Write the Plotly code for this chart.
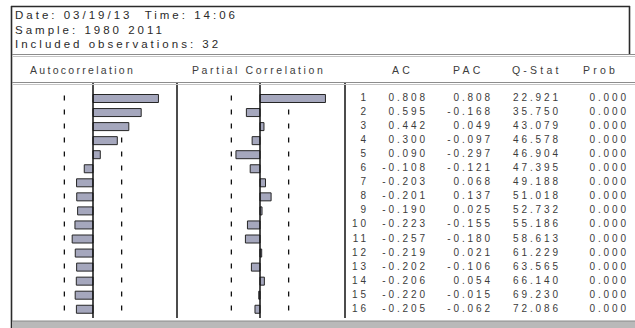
import math
import plotly.graph_objects as go

# Correlogram output: sample info and per-lag statistics
run_date = "03/19/13"
run_time = "14:06"
sample = "1980 2011"
n_obs = 32

lags = list(range(1, 17))
ac = [0.808, 0.595, 0.442, 0.300, 0.090, -0.108, -0.203, -0.201,
      -0.190, -0.223, -0.257, -0.219, -0.202, -0.206, -0.220, -0.205]
pac = [0.808, -0.168, 0.049, -0.097, -0.297, -0.121, 0.068, 0.137,
       0.025, -0.155, -0.180, 0.021, -0.106, 0.054, -0.015, -0.062]
q_stat = [22.921, 35.750, 43.079, 46.578, 46.904, 47.395, 49.188, 51.018,
          52.732, 55.186, 58.613, 61.229, 63.565, 66.140, 69.230, 72.086]
prob = [0.000] * 16

col_titles = ["AC", "PAC", "Q-Stat", "Prob"]

# approximate 95% band for the bar panels
band = 2 / math.sqrt(n_obs)

W, H = 635, 328
FONT = "Arial, Liberation Sans, sans-serif"
BAR_FILL = "#a5a7bd"
BAR_EDGE = "#262626"
TXT = "#3c3c3c"


def px_x(p):
    return p / W


def px_y(p):
    return 1 - p / H


def spaced(s, ls):
    return f'<span style="letter-spacing:{ls}px">{s}</span>'


fig = go.Figure()

# bar panels
fig.add_trace(go.Bar(x=ac, y=lags, orientation="h", xaxis="x", yaxis="y",
                     width=0.57, marker=dict(color=BAR_FILL, line=dict(color=BAR_EDGE, width=1)),
                     hoverinfo="skip"))
fig.add_trace(go.Bar(x=pac, y=lags, orientation="h", xaxis="x2", yaxis="y",
                     width=0.57, marker=dict(color=BAR_FILL, line=dict(color=BAR_EDGE, width=1)),
                     hoverinfo="skip"))

# numeric table columns (right-aligned at the column anchor)
ls_num = 2.9
columns = [
    (369, [str(v) for v in lags]),
    (428, [f"{v:.3f}" for v in ac]),
    (493, [f"{v:.3f}" for v in pac]),
    (561, [f"{v:.3f}" for v in q_stat]),
    (629, [f"{v:.3f}" for v in prob]),
]
for anchor, labels in columns:
    fig.add_trace(go.Scatter(
        x=[anchor] * len(lags), y=lags, xaxis="x3", yaxis="y",
        mode="text", text=[spaced(t, ls_num) for t in labels],
        textposition="middle left",
        textfont=dict(family=FONT, size=10, color=TXT),
        hoverinfo="skip"))

# row geometry: lag 1 centred at 98.5px, 14.05px per lag
row0, step = 98.5, 14.05
y_top = 1 - row0 / step
y_bot = 1 + (H - row0) / step

axis_off = dict(showgrid=False, zeroline=False, showticklabels=False,
                ticks="", showline=False, fixedrange=True)

fig.update_layout(
    width=W, height=H,
    margin=dict(l=0, r=0, t=0, b=0),
    paper_bgcolor="white", plot_bgcolor="rgba(0,0,0,0)",
    showlegend=False, barmode="overlay",
    xaxis=dict(domain=[px_x(12), px_x(174)], range=[-1, 1], **axis_off),
    xaxis2=dict(domain=[px_x(179), px_x(341)], range=[-1, 1], anchor="y", **axis_off),
    xaxis3=dict(domain=[0, 1], range=[0, W], anchor="y", **axis_off),
    yaxis=dict(domain=[0, 1], range=[y_bot, y_top], **axis_off),
)

shapes = []
line_k = dict(color="#111111", width=1.5)
y_a, y_b = px_y(83), px_y(318)

# zero lines and panel dividers
for xr, xv in [("x", 0), ("x2", 0)]:
    shapes.append(dict(type="line", xref=xr, yref="paper", x0=xv, x1=xv,
                       y0=y_a, y1=y_b, line=line_k))
for xp in (177, 345):
    shapes.append(dict(type="line", xref="paper", yref="paper",
                       x0=px_x(xp), x1=px_x(xp), y0=y_a, y1=y_b, line=line_k))

# dashed significance bands, drawn beneath the bars
for xr in ("x", "x2"):
    for sgn in (-1, 1):
        shapes.append(dict(type="line", xref=xr, yref="y", layer="below",
                           x0=sgn * band, x1=sgn * band, y0=0.78, y1=16.5,
                           line=dict(color="#111111", width=1.3, dash="5px,9px")))

# frame: header box, separators, bottom strip
frame = "#2b2b2b"
shapes += [
    dict(type="line", xref="paper", yref="paper", x0=px_x(11), x1=px_x(630),
         y0=px_y(6.5), y1=px_y(6.5), line=dict(color=frame, width=1.6)),
    dict(type="line", xref="paper", yref="paper", x0=px_x(11.5), x1=px_x(11.5),
         y0=px_y(6), y1=0, line=dict(color=frame, width=1.6)),
    dict(type="line", xref="paper", yref="paper", x0=px_x(629.5), x1=px_x(629.5),
         y0=px_y(6), y1=px_y(55), line=dict(color=frame, width=1.6)),
]
for yy in (54.5, 82.5):
    shapes.append(dict(type="line", xref="paper", yref="paper", x0=px_x(12), x1=1,
                       y0=px_y(yy), y1=px_y(yy), line=dict(color="#8c8c8c", width=1.2)))
    shapes.append(dict(type="line", xref="paper", yref="paper", x0=px_x(12), x1=1,
                       y0=px_y(yy + 2), y1=px_y(yy + 2), line=dict(color="#c4c4c4", width=1.2)))
shapes.append(dict(type="rect", xref="paper", yref="paper", x0=px_x(12), x1=1,
                   y0=0, y1=px_y(321), line=dict(width=0), fillcolor="#b9b9b9"))
shapes.append(dict(type="line", xref="paper", yref="paper", x0=px_x(12), x1=1,
                   y0=px_y(321), y1=px_y(321), line=dict(color="#8a8a8a", width=1)))
fig.update_layout(shapes=shapes)

# header text
ann = []
info = [f"Date: {run_date}  Time: {run_time}",
        f"Sample: {sample}",
        f"Included observations: {n_obs}"]
for i, t in enumerate(info):
    ann.append(dict(text=spaced(t, 3.0), xref="paper", yref="paper",
                    x=px_x(13), y=px_y(15 + 14.5 * i), xanchor="left", yanchor="middle",
                    showarrow=False, font=dict(family=FONT, size=11.5, color="#2a2a2a")))

ann.append(dict(text=spaced("Autocorrelation", 2.3), xref="paper", yref="paper",
                x=px_x(82), y=px_y(70), xanchor="center", yanchor="middle",
                showarrow=False, font=dict(family=FONT, size=10.5, color=TXT)))
ann.append(dict(text=spaced("Partial Correlation", 2.6), xref="paper", yref="paper",
                x=px_x(258), y=px_y(70), xanchor="center", yanchor="middle",
                showarrow=False, font=dict(family=FONT, size=10.5, color=TXT)))
for t, xl in zip(col_titles, (390, 451, 510, 581)):
    ann.append(dict(text=spaced(t, 3.2), xref="paper", yref="paper",
                    x=px_x(xl), y=px_y(70), xanchor="left", yanchor="middle",
                    showarrow=False, font=dict(family=FONT, size=10.5, color=TXT)))
fig.update_layout(annotations=ann)

fig.write_html("out.html")
